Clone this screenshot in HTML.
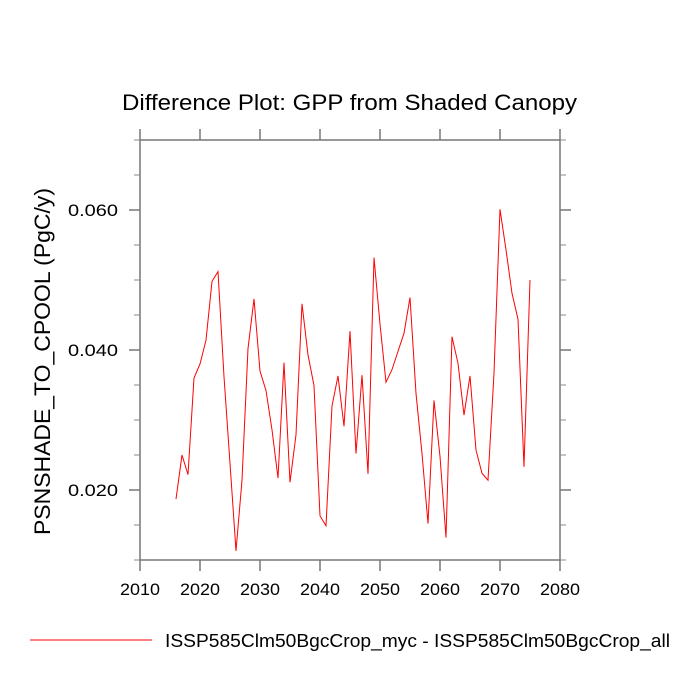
<!DOCTYPE html>
<html><head><meta charset="utf-8"><style>
html,body{margin:0;padding:0;background:#fff;}
svg{display:block;font-family:"Liberation Sans",sans-serif;}
</style></head><body>
<svg id="chart" width="700" height="700" xmlns="http://www.w3.org/2000/svg">
<text x="122" y="110" font-size="22" textLength="455" lengthAdjust="spacingAndGlyphs">Difference Plot: GPP from Shaded Canopy</text>
<text transform="translate(50,535) rotate(-90)" font-size="22" textLength="347" lengthAdjust="spacingAndGlyphs">PSNSHADE_TO_CPOOL  (PgC/y)</text>
<g id="marks"></g>
<rect x="140" y="140" width="420" height="420" fill="none" stroke="#777" stroke-width="1.5"/>
<g id="ticks"></g>
<line x1="30" y1="640" x2="152" y2="640" stroke="#ff0000" stroke-width="1"/>
<text x="165" y="647" font-size="18" textLength="505" lengthAdjust="spacingAndGlyphs">ISSP585Clm50BgcCrop_myc - ISSP585Clm50BgcCrop_all</text>
</svg>
<script>
const years=[2016,2017,2018,2019,2020,2021,2022,2023,2024,2025,2026,2027,2028,2029,2030,2031,2032,2033,2034,2035,2036,2037,2038,2039,2040,2041,2042,2043,2044,2045,2046,2047,2048,2049,2050,2051,2052,2053,2054,2055,2056,2057,2058,2059,2060,2061,2062,2063,2064,2065,2066,2067,2068,2069,2070,2071,2072,2073,2074,2075];
const values=[0.0187,0.0250,0.0222,0.0360,0.0380,0.0414,0.0498,0.0512,0.0362,0.0238,0.0113,0.0214,0.0402,0.0473,0.0370,0.0342,0.0286,0.0217,0.0382,0.0211,0.0279,0.0466,0.0393,0.0349,0.0163,0.0149,0.0320,0.0363,0.0291,0.0427,0.0252,0.0364,0.0223,0.0532,0.0437,0.0354,0.0372,0.0398,0.0424,0.0475,0.0338,0.0252,0.0152,0.0328,0.0248,0.0132,0.0419,0.0381,0.0307,0.0363,0.0257,0.0224,0.0214,0.0367,0.0601,0.0543,0.0481,0.0444,0.0233,0.0500];
const xTicks=[2010,2020,2030,2040,2050,2060,2070,2080];
const yTicks=[0.020,0.040,0.060];
const yTickLabels=["0.020","0.040","0.060"];
const yMinor=[0.010,0.015,0.025,0.030,0.035,0.045,0.050,0.055,0.065,0.070];
const X=v=>140+(v-2010)*6;
const Y=v=>560-(v-0.010)*7000;
const NS="http://www.w3.org/2000/svg";
const marks=document.getElementById('marks'),ticks=document.getElementById('ticks');
function mk(tag,attrs,parent){const e=document.createElementNS(NS,tag);for(const k in attrs)e.setAttribute(k,attrs[k]);parent.appendChild(e);return e;}
const p=mk('polyline',{points:years.map((y,i)=>X(y)+','+Y(values[i])).join(' '),fill:'none',stroke:'#ff0000','stroke-width':1},marks);


xTicks.forEach(t=>{
  const a=mk('line',{x1:X(t),x2:X(t),y1:560,y2:571,stroke:'#777','stroke-width':1.5},ticks);
  
  
  const b=mk('line',{x1:X(t),x2:X(t),y1:140,y2:129,stroke:'#777','stroke-width':1.5},ticks);
  
  
  const l=mk('text',{x:X(t)-20,y:595,'font-size':17,textLength:40,lengthAdjust:'spacingAndGlyphs'},ticks);
  l.textContent=t;
  
  
});
yTicks.forEach((t,i)=>{
  const a=mk('line',{x1:129,x2:140,y1:Y(t),y2:Y(t),stroke:'#777','stroke-width':1.5},ticks);
  
  
  const b=mk('line',{x1:560,x2:571,y1:Y(t),y2:Y(t),stroke:'#777','stroke-width':1.5},ticks);
  
  
  const l=mk('text',{x:68,y:Y(t)+6,'font-size':17,textLength:50,lengthAdjust:'spacingAndGlyphs'},ticks);
  l.textContent=yTickLabels[i];
  
  
});
yMinor.forEach(t=>{
  const a=mk('line',{x1:134,x2:140,y1:Y(t),y2:Y(t),stroke:'#888','stroke-width':1},ticks);
  
  
  const b=mk('line',{x1:560,x2:566,y1:Y(t),y2:Y(t),stroke:'#888','stroke-width':1},ticks);
  
  
});
</script>
</body></html>
